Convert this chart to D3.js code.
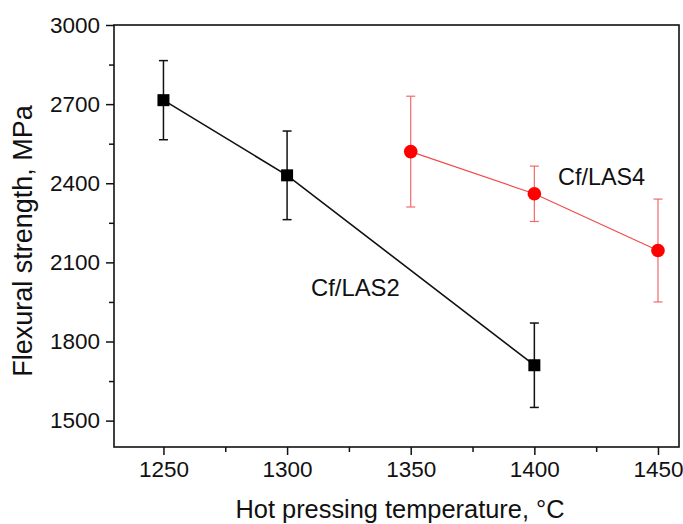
<!DOCTYPE html>
<html>
<head>
<meta charset="utf-8">
<script src="https://cdn.jsdelivr.net/npm/d3@7"></script>
<style>
  body { margin: 0; background: #fff; }
  svg text { font-family: "Liberation Sans", Arial, sans-serif; fill: #111; }
</style>
</head>
<body>
<svg id="chart" width="683" height="524"></svg>
<script>
// =========================
// DADES
// =========================
const las2Temp = [1250, 1300, 1400];
const las2Strength = [2715, 2430, 1710];
const las2Err = [150, 168, 160];

const las4Temp = [1350, 1400, 1450];
const las4Strength = [2520, 2360, 2145];
const las4Err = [210, 105, 195];

const xTicks = [1250, 1300, 1350, 1400, 1450];
const xMinor = [1275, 1325, 1375, 1425];
const yTicks = [1500, 1800, 2100, 2400, 2700, 3000];
const yMinor = [1650, 1950, 2250, 2550, 2850];

// =========================
// ESCALES
// =========================
const svg = d3.select("#chart");
const plotLeft = 114, plotRight = 679, plotTop = 25, plotBottom = 447;

const x = d3.scaleLinear().domain([1230, 1458.5]).range([plotLeft, plotRight]);
const y = d3.scaleLinear().domain([1400, 3000]).range([plotBottom, plotTop]);

// =========================
// EIXOS
// =========================
const axisColor = "#111";

svg.append("g")
  .attr("transform", `translate(0,${plotBottom})`)
  .call(d3.axisBottom(x).tickValues(xTicks).tickSize(8).tickPadding(6).tickFormat(d3.format("d")));
svg.append("g")
  .attr("transform", `translate(0,${plotBottom})`)
  .call(d3.axisBottom(x).tickValues(xMinor).tickSize(5).tickFormat(""));

svg.append("g")
  .attr("transform", `translate(${plotLeft},0)`)
  .call(d3.axisLeft(y).tickValues(yTicks).tickSize(8).tickPadding(6).tickFormat(d3.format("d")));
svg.append("g")
  .attr("transform", `translate(${plotLeft},0)`)
  .call(d3.axisLeft(y).tickValues(yMinor).tickSize(5).tickFormat(""));

svg.selectAll(".domain").remove();
svg.selectAll(".tick line").attr("stroke", axisColor).attr("stroke-width", 1.5);
svg.selectAll(".tick text")
  .style("font-size", "22.5px")
  .style("font-family", "'Liberation Sans', Arial, sans-serif")
  .attr("fill", "#111");

// marc
svg.append("rect")
  .attr("x", plotLeft)
  .attr("y", plotTop)
  .attr("width", plotRight - plotLeft)
  .attr("height", plotBottom - plotTop)
  .attr("fill", "none")
  .attr("stroke", axisColor)
  .attr("stroke-width", 1.6);

// títols
svg.append("text")
  .attr("x", 400)
  .attr("y", 518)
  .attr("text-anchor", "middle")
  .style("font-size", "25.4px")
  .text("Hot pressing temperature, \u00b0C");

svg.append("text")
  .attr("transform", "translate(32,241) rotate(-90)")
  .attr("text-anchor", "middle")
  .style("font-size", "27px")
  .text("Flexural strength, MPa");

// =========================
// SÈRIES
// =========================
function drawSeries(temps, vals, errs, opts) {
  const pts = temps.map((t, i) => ({ t, v: vals[i], e: errs[i] }));
  const g = svg.append("g");

  g.append("path")
    .datum(pts)
    .attr("fill", "none")
    .attr("stroke", opts.line)
    .attr("stroke-width", opts.lineWidth)
    .attr("d", d3.line().x(d => x(d.t)).y(d => y(d.v)));

  const eb = g.selectAll(".err").data(pts).enter().append("g")
    .attr("stroke", opts.err)
    .attr("stroke-width", opts.errWidth);
  eb.append("line")
    .attr("x1", d => x(d.t)).attr("x2", d => x(d.t))
    .attr("y1", d => y(d.v - d.e)).attr("y2", d => y(d.v + d.e));
  eb.append("line")
    .attr("x1", d => x(d.t) - 4.5).attr("x2", d => x(d.t) + 4.5)
    .attr("y1", d => y(d.v + d.e)).attr("y2", d => y(d.v + d.e));
  eb.append("line")
    .attr("x1", d => x(d.t) - 4.5).attr("x2", d => x(d.t) + 4.5)
    .attr("y1", d => y(d.v - d.e)).attr("y2", d => y(d.v - d.e));

  if (opts.shape === "square") {
    g.selectAll(".mk").data(pts).enter().append("rect")
      .attr("x", d => x(d.t) - 6).attr("y", d => y(d.v) - 6)
      .attr("width", 12).attr("height", 12)
      .attr("fill", opts.fill);
  } else {
    g.selectAll(".mk").data(pts).enter().append("circle")
      .attr("cx", d => x(d.t)).attr("cy", d => y(d.v))
      .attr("r", 6.8)
      .attr("fill", opts.fill);
  }
}

drawSeries(las2Temp, las2Strength, las2Err, {
  line: "#111", lineWidth: 1.6, err: "#111", errWidth: 1.5, fill: "#000", shape: "square"
});
drawSeries(las4Temp, las4Strength, las4Err, {
  line: "#f24a4a", lineWidth: 1.2, err: "#f36a6a", errWidth: 1.2, fill: "#ff0000", shape: "circle"
});

// etiquetes
svg.append("text")
  .attr("x", 311)
  .attr("y", 296)
  .style("font-size", "23.8px")
  .text("Cf/LAS2");

svg.append("text")
  .attr("x", 558)
  .attr("y", 185)
  .style("font-size", "23.4px")
  .text("Cf/LAS4");
</script>
</body>
</html>
